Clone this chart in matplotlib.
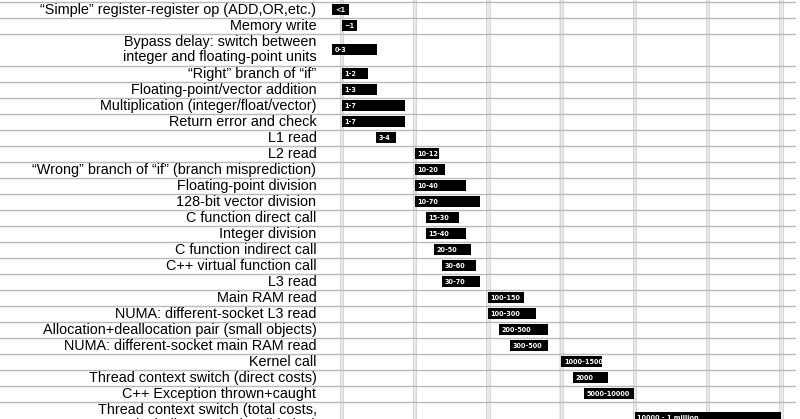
import matplotlib
matplotlib.use('Agg')
import matplotlib.pyplot as plt
from matplotlib.transforms import offset_copy
import numpy as np

plt.rcParams['font.family'] = ['Liberation Sans', 'DejaVu Sans']

# operations, top to bottom (two-line names take a double row)
operations = [
    '\u201cSimple\u201d register-register op (ADD,OR,etc.)',
    'Memory write',
    'Bypass delay: switch between\ninteger and floating-point units',
    '\u201cRight\u201d branch of \u201cif\u201d',
    'Floating-point/vector addition',
    'Multiplication (integer/float/vector)',
    'Return error and check',
    'L1 read',
    'L2 read',
    '\u201cWrong\u201d branch of \u201cif\u201d (branch misprediction)',
    'Floating-point division',
    '128-bit vector division',
    'C function direct call',
    'Integer division',
    'C function indirect call',
    'C++ virtual function call',
    'L3 read',
    'Main RAM read',
    'NUMA: different-socket L3 read',
    'Allocation+deallocation pair (small objects)',
    'NUMA: different-socket main RAM read',
    'Kernel call',
    'Thread context switch (direct costs)',
    'C++ Exception thrown+caught',
    'Thread context switch (total costs,\nincluding cache invalidation)',
]
cycle_labels = ['<1', '~1', '0-3', '1-2', '1-3', '1-7', '1-7', '3-4',
                '10-12', '10-20', '10-40', '10-70', '15-30', '15-40', '20-50',
                '30-60', '30-70', '100-150', '100-300', '200-500', '300-500',
                '1000-1500', '2000', '5000-10000', '10000 - 1 million']
# bar extents in CPU cycles, as drawn in the picture
bar_lo = [0.75, 1, 0.75, 1, 1, 1, 1, 2.96,
          10, 10, 10, 10, 14.2, 14.2, 18.4,
          23.7, 23.7, 100, 100, 143, 201,
          1000, 1430, 2050, 10000]
bar_hi = [1.25, 1.65, 3.1, 2.3, 3.1, 7.3, 7.3, 5.55,
          21.6, 26, 50, 77, 40, 50, 59,
          68, 77, 309, 455, 650, 650,
          3650, 4370, 9700, 1e6]

heights = np.array([s.count('\n') + 1 for s in operations])
tops = np.concatenate([[0], np.cumsum(heights)[:-1]])
centers = tops + heights / 2.0

fig = plt.figure(figsize=(8, 4.19), dpi=100)
ax = fig.add_axes([0, 0, 796 / 800, 1])
ax.set_xscale('log')
ax.set_xlim(10 ** (-341.5 / 73.25), 10 ** (454.5 / 73.25))
ax.set_ylim(26.09, -0.094)
ax.axis('off')

# decade grid: light band with thin edges
for v in 10.0 ** np.arange(0, 7):
    ax.axvline(v, color='#e8e8e8', lw=2.8, zorder=0)
    for dx in (-1.6, 1.6):
        tr = offset_copy(ax.get_xaxis_transform(), fig=fig, x=dx, units='dots')
        ax.plot([v, v], [0, 1], color='#d2d2d2', lw=0.6, transform=tr, zorder=0)

# row separators
for b in np.concatenate([tops, [tops[-1] + heights[-1]]]):
    ax.axhline(b, color='#b9b9b9', lw=1.0, zorder=1)

lo = np.array(bar_lo)
hi = np.array(bar_hi)
ax.barh(centers, hi - lo, left=lo, height=0.66, color='black', zorder=3)

for x0, c, s in zip(lo, centers, cycle_labels):
    ax.annotate(s, (x0, c), xytext=(2.5, 0), textcoords='offset pixels',
                color='white', fontsize=4.7, fontweight='bold',
                family='DejaVu Sans', ha='left', va='center', zorder=4)

for c, s in zip(centers, operations):
    ax.text(316.5 / 796, c, s, transform=ax.get_yaxis_transform(),
            ha='right', va='center', fontsize=10.35, linespacing=1.12,
            color='black')

fig.savefig('out.png', dpi=100)
